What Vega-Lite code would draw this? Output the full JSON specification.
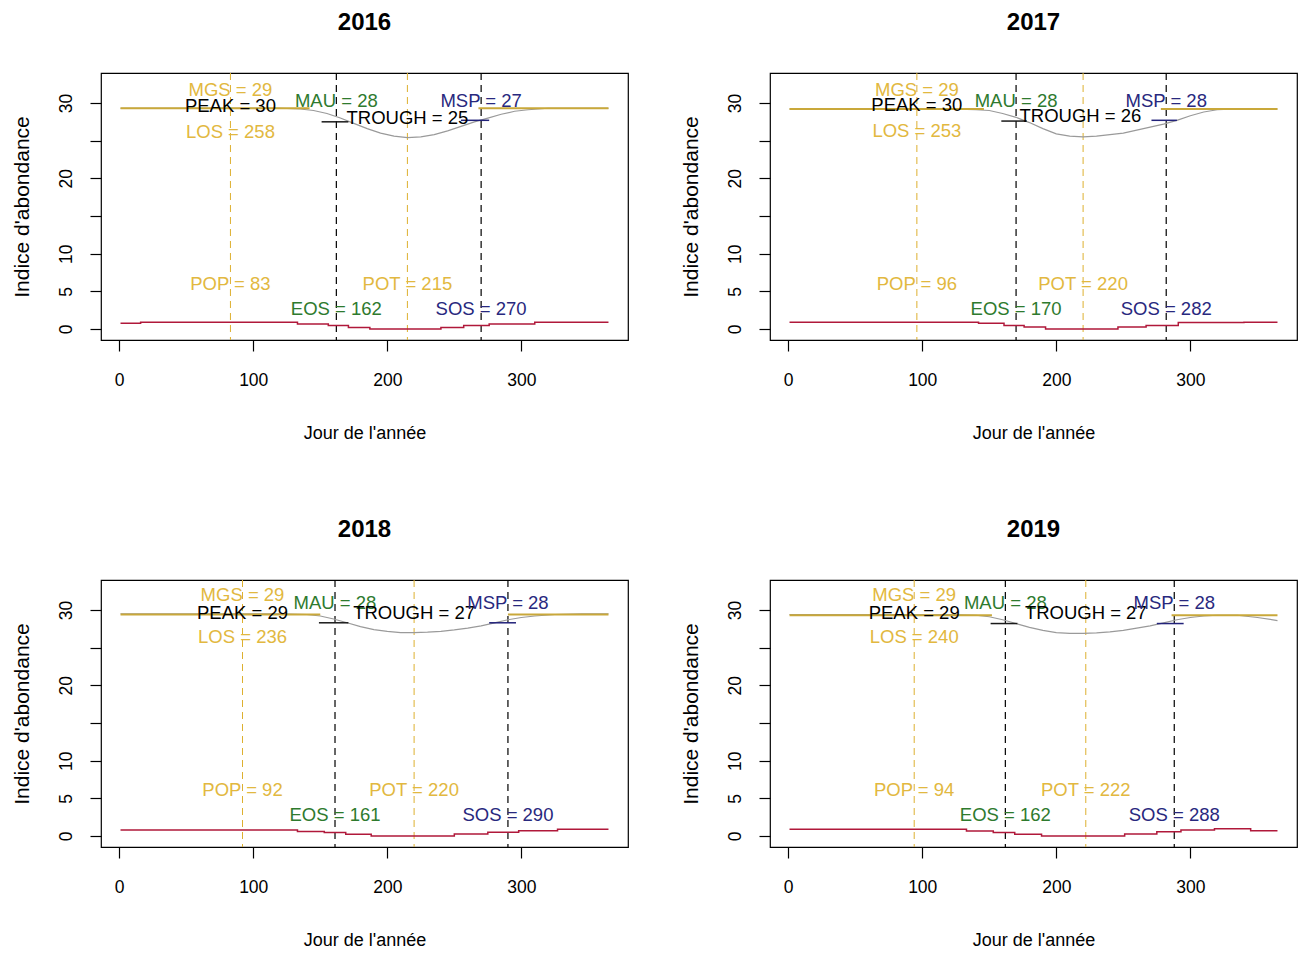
{
  "$schema": "https://vega.github.io/schema/vega-lite/v6.json",
  "background": "white",
  "padding": {"left": 10, "top": 10, "right": 5, "bottom": 5},
  "bounds": "flush",
  "columns": 2,
  "spacing": {"row": 240, "column": 142},
  "datasets": {
    "d": [
      {"year": 2016, "kind": "curve", "day": 1, "value": 29.3},
      {"year": 2016, "kind": "curve", "day": 30, "value": 29.3},
      {"year": 2016, "kind": "curve", "day": 60, "value": 29.3},
      {"year": 2016, "kind": "curve", "day": 90, "value": 29.3},
      {"year": 2016, "kind": "curve", "day": 120, "value": 29.3},
      {"year": 2016, "kind": "curve", "day": 135, "value": 29.2},
      {"year": 2016, "kind": "curve", "day": 145, "value": 29.0},
      {"year": 2016, "kind": "curve", "day": 155, "value": 28.6},
      {"year": 2016, "kind": "curve", "day": 165, "value": 28.0},
      {"year": 2016, "kind": "curve", "day": 175, "value": 27.3},
      {"year": 2016, "kind": "curve", "day": 185, "value": 26.6},
      {"year": 2016, "kind": "curve", "day": 195, "value": 26.0},
      {"year": 2016, "kind": "curve", "day": 205, "value": 25.6},
      {"year": 2016, "kind": "curve", "day": 215, "value": 25.4},
      {"year": 2016, "kind": "curve", "day": 225, "value": 25.5},
      {"year": 2016, "kind": "curve", "day": 235, "value": 25.8},
      {"year": 2016, "kind": "curve", "day": 245, "value": 26.3},
      {"year": 2016, "kind": "curve", "day": 255, "value": 26.9},
      {"year": 2016, "kind": "curve", "day": 265, "value": 27.5},
      {"year": 2016, "kind": "curve", "day": 275, "value": 28.0},
      {"year": 2016, "kind": "curve", "day": 285, "value": 28.5},
      {"year": 2016, "kind": "curve", "day": 295, "value": 28.9},
      {"year": 2016, "kind": "curve", "day": 305, "value": 29.1},
      {"year": 2016, "kind": "curve", "day": 320, "value": 29.3},
      {"year": 2016, "kind": "curve", "day": 340, "value": 29.3},
      {"year": 2016, "kind": "curve", "day": 365, "value": 29.3},

      {"year": 2017, "kind": "curve", "day": 1, "value": 29.2},
      {"year": 2017, "kind": "curve", "day": 30, "value": 29.2},
      {"year": 2017, "kind": "curve", "day": 60, "value": 29.2},
      {"year": 2017, "kind": "curve", "day": 90, "value": 29.2},
      {"year": 2017, "kind": "curve", "day": 120, "value": 29.2},
      {"year": 2017, "kind": "curve", "day": 140, "value": 29.1},
      {"year": 2017, "kind": "curve", "day": 150, "value": 29.0},
      {"year": 2017, "kind": "curve", "day": 160, "value": 28.6},
      {"year": 2017, "kind": "curve", "day": 170, "value": 28.1},
      {"year": 2017, "kind": "curve", "day": 180, "value": 27.4},
      {"year": 2017, "kind": "curve", "day": 190, "value": 26.6},
      {"year": 2017, "kind": "curve", "day": 200, "value": 25.9},
      {"year": 2017, "kind": "curve", "day": 210, "value": 25.6},
      {"year": 2017, "kind": "curve", "day": 220, "value": 25.5},
      {"year": 2017, "kind": "curve", "day": 230, "value": 25.6},
      {"year": 2017, "kind": "curve", "day": 240, "value": 25.8},
      {"year": 2017, "kind": "curve", "day": 250, "value": 26.0},
      {"year": 2017, "kind": "curve", "day": 260, "value": 26.4},
      {"year": 2017, "kind": "curve", "day": 270, "value": 26.8},
      {"year": 2017, "kind": "curve", "day": 280, "value": 27.2},
      {"year": 2017, "kind": "curve", "day": 290, "value": 27.7},
      {"year": 2017, "kind": "curve", "day": 300, "value": 28.3},
      {"year": 2017, "kind": "curve", "day": 310, "value": 28.8},
      {"year": 2017, "kind": "curve", "day": 320, "value": 29.1},
      {"year": 2017, "kind": "curve", "day": 335, "value": 29.2},
      {"year": 2017, "kind": "curve", "day": 365, "value": 29.2},

      {"year": 2018, "kind": "curve", "day": 1, "value": 29.5},
      {"year": 2018, "kind": "curve", "day": 30, "value": 29.5},
      {"year": 2018, "kind": "curve", "day": 60, "value": 29.5},
      {"year": 2018, "kind": "curve", "day": 90, "value": 29.5},
      {"year": 2018, "kind": "curve", "day": 120, "value": 29.5},
      {"year": 2018, "kind": "curve", "day": 140, "value": 29.4},
      {"year": 2018, "kind": "curve", "day": 150, "value": 29.2},
      {"year": 2018, "kind": "curve", "day": 160, "value": 28.8},
      {"year": 2018, "kind": "curve", "day": 170, "value": 28.3},
      {"year": 2018, "kind": "curve", "day": 180, "value": 27.8},
      {"year": 2018, "kind": "curve", "day": 190, "value": 27.4},
      {"year": 2018, "kind": "curve", "day": 200, "value": 27.15},
      {"year": 2018, "kind": "curve", "day": 210, "value": 27.0},
      {"year": 2018, "kind": "curve", "day": 220, "value": 27.0},
      {"year": 2018, "kind": "curve", "day": 230, "value": 27.05},
      {"year": 2018, "kind": "curve", "day": 240, "value": 27.15},
      {"year": 2018, "kind": "curve", "day": 250, "value": 27.35},
      {"year": 2018, "kind": "curve", "day": 260, "value": 27.6},
      {"year": 2018, "kind": "curve", "day": 270, "value": 27.9},
      {"year": 2018, "kind": "curve", "day": 280, "value": 28.3},
      {"year": 2018, "kind": "curve", "day": 290, "value": 28.7},
      {"year": 2018, "kind": "curve", "day": 300, "value": 29.0},
      {"year": 2018, "kind": "curve", "day": 310, "value": 29.2},
      {"year": 2018, "kind": "curve", "day": 325, "value": 29.4},
      {"year": 2018, "kind": "curve", "day": 345, "value": 29.5},
      {"year": 2018, "kind": "curve", "day": 365, "value": 29.5},

      {"year": 2019, "kind": "curve", "day": 1, "value": 29.4},
      {"year": 2019, "kind": "curve", "day": 30, "value": 29.4},
      {"year": 2019, "kind": "curve", "day": 60, "value": 29.4},
      {"year": 2019, "kind": "curve", "day": 90, "value": 29.4},
      {"year": 2019, "kind": "curve", "day": 120, "value": 29.4},
      {"year": 2019, "kind": "curve", "day": 140, "value": 29.3},
      {"year": 2019, "kind": "curve", "day": 150, "value": 29.1},
      {"year": 2019, "kind": "curve", "day": 160, "value": 28.7},
      {"year": 2019, "kind": "curve", "day": 170, "value": 28.2},
      {"year": 2019, "kind": "curve", "day": 180, "value": 27.7},
      {"year": 2019, "kind": "curve", "day": 190, "value": 27.3},
      {"year": 2019, "kind": "curve", "day": 200, "value": 27.0},
      {"year": 2019, "kind": "curve", "day": 210, "value": 26.9},
      {"year": 2019, "kind": "curve", "day": 220, "value": 26.9},
      {"year": 2019, "kind": "curve", "day": 230, "value": 26.95},
      {"year": 2019, "kind": "curve", "day": 240, "value": 27.1},
      {"year": 2019, "kind": "curve", "day": 250, "value": 27.3},
      {"year": 2019, "kind": "curve", "day": 260, "value": 27.6},
      {"year": 2019, "kind": "curve", "day": 270, "value": 27.9},
      {"year": 2019, "kind": "curve", "day": 280, "value": 28.3},
      {"year": 2019, "kind": "curve", "day": 290, "value": 28.7},
      {"year": 2019, "kind": "curve", "day": 300, "value": 29.0},
      {"year": 2019, "kind": "curve", "day": 310, "value": 29.2},
      {"year": 2019, "kind": "curve", "day": 320, "value": 29.3},
      {"year": 2019, "kind": "curve", "day": 335, "value": 29.3},
      {"year": 2019, "kind": "curve", "day": 350, "value": 29.0},
      {"year": 2019, "kind": "curve", "day": 365, "value": 28.6},

      {"year": 2016, "kind": "gold", "seg": "a", "day": 1, "value": 29.3},
      {"year": 2016, "kind": "gold", "seg": "a", "day": 142, "value": 29.3},
      {"year": 2016, "kind": "gold", "seg": "b", "day": 268, "value": 29.3},
      {"year": 2016, "kind": "gold", "seg": "b", "day": 365, "value": 29.3},
      {"year": 2017, "kind": "gold", "seg": "a", "day": 1, "value": 29.2},
      {"year": 2017, "kind": "gold", "seg": "a", "day": 146, "value": 29.2},
      {"year": 2017, "kind": "gold", "seg": "b", "day": 278, "value": 29.2},
      {"year": 2017, "kind": "gold", "seg": "b", "day": 365, "value": 29.2},
      {"year": 2018, "kind": "gold", "seg": "a", "day": 1, "value": 29.4},
      {"year": 2018, "kind": "gold", "seg": "a", "day": 150, "value": 29.4},
      {"year": 2018, "kind": "gold", "seg": "b", "day": 290, "value": 29.4},
      {"year": 2018, "kind": "gold", "seg": "b", "day": 365, "value": 29.4},
      {"year": 2019, "kind": "gold", "seg": "a", "day": 1, "value": 29.3},
      {"year": 2019, "kind": "gold", "seg": "a", "day": 152, "value": 29.3},
      {"year": 2019, "kind": "gold", "seg": "b", "day": 286, "value": 29.3},
      {"year": 2019, "kind": "gold", "seg": "b", "day": 365, "value": 29.3},

      {"year": 2016, "kind": "red", "day": 1, "value": 0.75},
      {"year": 2016, "kind": "red", "day": 16, "value": 0.9},
      {"year": 2016, "kind": "red", "day": 133, "value": 0.65},
      {"year": 2016, "kind": "red", "day": 156, "value": 0.45},
      {"year": 2016, "kind": "red", "day": 171, "value": 0.2},
      {"year": 2016, "kind": "red", "day": 187, "value": 0.0},
      {"year": 2016, "kind": "red", "day": 240, "value": 0.2},
      {"year": 2016, "kind": "red", "day": 257, "value": 0.45},
      {"year": 2016, "kind": "red", "day": 276, "value": 0.65},
      {"year": 2016, "kind": "red", "day": 310, "value": 0.9},
      {"year": 2016, "kind": "red", "day": 365, "value": 0.9},
      {"year": 2017, "kind": "red", "day": 1, "value": 0.9},
      {"year": 2017, "kind": "red", "day": 142, "value": 0.75},
      {"year": 2017, "kind": "red", "day": 161, "value": 0.45},
      {"year": 2017, "kind": "red", "day": 176, "value": 0.25},
      {"year": 2017, "kind": "red", "day": 192, "value": 0.0},
      {"year": 2017, "kind": "red", "day": 246, "value": 0.25},
      {"year": 2017, "kind": "red", "day": 267, "value": 0.45},
      {"year": 2017, "kind": "red", "day": 291, "value": 0.85},
      {"year": 2017, "kind": "red", "day": 340, "value": 0.9},
      {"year": 2017, "kind": "red", "day": 365, "value": 0.9},
      {"year": 2018, "kind": "red", "day": 1, "value": 0.8},
      {"year": 2018, "kind": "red", "day": 133, "value": 0.6},
      {"year": 2018, "kind": "red", "day": 153, "value": 0.45},
      {"year": 2018, "kind": "red", "day": 169, "value": 0.22},
      {"year": 2018, "kind": "red", "day": 188, "value": 0.0},
      {"year": 2018, "kind": "red", "day": 250, "value": 0.25},
      {"year": 2018, "kind": "red", "day": 275, "value": 0.5},
      {"year": 2018, "kind": "red", "day": 298, "value": 0.7},
      {"year": 2018, "kind": "red", "day": 327, "value": 0.9},
      {"year": 2018, "kind": "red", "day": 365, "value": 0.9},
      {"year": 2019, "kind": "red", "day": 1, "value": 0.9},
      {"year": 2019, "kind": "red", "day": 133, "value": 0.65},
      {"year": 2019, "kind": "red", "day": 153, "value": 0.45},
      {"year": 2019, "kind": "red", "day": 169, "value": 0.22},
      {"year": 2019, "kind": "red", "day": 189, "value": 0.0},
      {"year": 2019, "kind": "red", "day": 251, "value": 0.25},
      {"year": 2019, "kind": "red", "day": 275, "value": 0.55},
      {"year": 2019, "kind": "red", "day": 293, "value": 0.8},
      {"year": 2019, "kind": "red", "day": 318, "value": 0.95},
      {"year": 2019, "kind": "red", "day": 345, "value": 0.7},
      {"year": 2019, "kind": "red", "day": 365, "value": 0.7},

      {"year": 2016, "kind": "vline", "metric": "POP", "day": 83},
      {"year": 2016, "kind": "vline", "metric": "EOS", "day": 162},
      {"year": 2016, "kind": "vline", "metric": "POT", "day": 215},
      {"year": 2016, "kind": "vline", "metric": "SOS", "day": 270},
      {"year": 2017, "kind": "vline", "metric": "POP", "day": 96},
      {"year": 2017, "kind": "vline", "metric": "EOS", "day": 170},
      {"year": 2017, "kind": "vline", "metric": "POT", "day": 220},
      {"year": 2017, "kind": "vline", "metric": "SOS", "day": 282},
      {"year": 2018, "kind": "vline", "metric": "POP", "day": 92},
      {"year": 2018, "kind": "vline", "metric": "EOS", "day": 161},
      {"year": 2018, "kind": "vline", "metric": "POT", "day": 220},
      {"year": 2018, "kind": "vline", "metric": "SOS", "day": 290},
      {"year": 2019, "kind": "vline", "metric": "POP", "day": 94},
      {"year": 2019, "kind": "vline", "metric": "EOS", "day": 162},
      {"year": 2019, "kind": "vline", "metric": "POT", "day": 222},
      {"year": 2019, "kind": "vline", "metric": "SOS", "day": 288},

      {"year": 2016, "kind": "seg", "metric": "MAU", "day": 151, "day2": 171, "value": 27.5},
      {"year": 2016, "kind": "seg", "metric": "MSP", "day": 255, "day2": 276, "value": 27.7},
      {"year": 2017, "kind": "seg", "metric": "MAU", "day": 159, "day2": 178, "value": 27.6},
      {"year": 2017, "kind": "seg", "metric": "MSP", "day": 271, "day2": 290, "value": 27.7},
      {"year": 2018, "kind": "seg", "metric": "MAU", "day": 149, "day2": 171, "value": 28.3},
      {"year": 2018, "kind": "seg", "metric": "MSP", "day": 276, "day2": 296, "value": 28.3},
      {"year": 2019, "kind": "seg", "metric": "MAU", "day": 151, "day2": 171, "value": 28.2},
      {"year": 2019, "kind": "seg", "metric": "MSP", "day": 275, "day2": 295, "value": 28.2},

      {"year": 2016, "kind": "label", "metric": "MGS", "day": 83, "value": 31.7, "label": "MGS = 29"},
      {"year": 2016, "kind": "label", "metric": "PEAK", "day": 83, "value": 29.6, "label": "PEAK = 30"},
      {"year": 2016, "kind": "label", "metric": "LOS", "day": 83, "value": 26.2, "label": "LOS = 258"},
      {"year": 2016, "kind": "label", "metric": "MAU", "day": 162, "value": 30.3, "label": "MAU = 28"},
      {"year": 2016, "kind": "label", "metric": "TROUGH", "day": 215, "value": 28.0, "label": "TROUGH = 25"},
      {"year": 2016, "kind": "label", "metric": "MSP", "day": 270, "value": 30.3, "label": "MSP = 27"},
      {"year": 2016, "kind": "label", "metric": "POP", "day": 83, "value": 6.0, "label": "POP = 83"},
      {"year": 2016, "kind": "label", "metric": "POT", "day": 215, "value": 6.0, "label": "POT = 215"},
      {"year": 2016, "kind": "label", "metric": "EOS", "day": 162, "value": 2.6, "label": "EOS = 162"},
      {"year": 2016, "kind": "label", "metric": "SOS", "day": 270, "value": 2.6, "label": "SOS = 270"},

      {"year": 2017, "kind": "label", "metric": "MGS", "day": 96, "value": 31.7, "label": "MGS = 29"},
      {"year": 2017, "kind": "label", "metric": "PEAK", "day": 96, "value": 29.7, "label": "PEAK = 30"},
      {"year": 2017, "kind": "label", "metric": "LOS", "day": 96, "value": 26.3, "label": "LOS = 253"},
      {"year": 2017, "kind": "label", "metric": "MAU", "day": 170, "value": 30.3, "label": "MAU = 28"},
      {"year": 2017, "kind": "label", "metric": "TROUGH", "day": 218, "value": 28.3, "label": "TROUGH = 26"},
      {"year": 2017, "kind": "label", "metric": "MSP", "day": 282, "value": 30.3, "label": "MSP = 28"},
      {"year": 2017, "kind": "label", "metric": "POP", "day": 96, "value": 6.0, "label": "POP = 96"},
      {"year": 2017, "kind": "label", "metric": "POT", "day": 220, "value": 6.0, "label": "POT = 220"},
      {"year": 2017, "kind": "label", "metric": "EOS", "day": 170, "value": 2.6, "label": "EOS = 170"},
      {"year": 2017, "kind": "label", "metric": "SOS", "day": 282, "value": 2.6, "label": "SOS = 282"},

      {"year": 2018, "kind": "label", "metric": "MGS", "day": 92, "value": 32.0, "label": "MGS = 29"},
      {"year": 2018, "kind": "label", "metric": "PEAK", "day": 92, "value": 29.6, "label": "PEAK = 29"},
      {"year": 2018, "kind": "label", "metric": "LOS", "day": 92, "value": 26.4, "label": "LOS = 236"},
      {"year": 2018, "kind": "label", "metric": "MAU", "day": 161, "value": 30.9, "label": "MAU = 28"},
      {"year": 2018, "kind": "label", "metric": "TROUGH", "day": 220, "value": 29.6, "label": "TROUGH = 27"},
      {"year": 2018, "kind": "label", "metric": "MSP", "day": 290, "value": 30.9, "label": "MSP = 28"},
      {"year": 2018, "kind": "label", "metric": "POP", "day": 92, "value": 6.1, "label": "POP = 92"},
      {"year": 2018, "kind": "label", "metric": "POT", "day": 220, "value": 6.1, "label": "POT = 220"},
      {"year": 2018, "kind": "label", "metric": "EOS", "day": 161, "value": 2.8, "label": "EOS = 161"},
      {"year": 2018, "kind": "label", "metric": "SOS", "day": 290, "value": 2.8, "label": "SOS = 290"},

      {"year": 2019, "kind": "label", "metric": "MGS", "day": 94, "value": 32.0, "label": "MGS = 29"},
      {"year": 2019, "kind": "label", "metric": "PEAK", "day": 94, "value": 29.6, "label": "PEAK = 29"},
      {"year": 2019, "kind": "label", "metric": "LOS", "day": 94, "value": 26.4, "label": "LOS = 240"},
      {"year": 2019, "kind": "label", "metric": "MAU", "day": 162, "value": 30.9, "label": "MAU = 28"},
      {"year": 2019, "kind": "label", "metric": "TROUGH", "day": 222, "value": 29.6, "label": "TROUGH = 27"},
      {"year": 2019, "kind": "label", "metric": "MSP", "day": 288, "value": 30.9, "label": "MSP = 28"},
      {"year": 2019, "kind": "label", "metric": "POP", "day": 94, "value": 6.1, "label": "POP = 94"},
      {"year": 2019, "kind": "label", "metric": "POT", "day": 222, "value": 6.1, "label": "POT = 222"},
      {"year": 2019, "kind": "label", "metric": "EOS", "day": 162, "value": 2.8, "label": "EOS = 162"},
      {"year": 2019, "kind": "label", "metric": "SOS", "day": 288, "value": 2.8, "label": "SOS = 288"}
    ]
  },
  "data": {"name": "d"},
  "concat": [
    {
      "title": "2016",
      "width": 527, "height": 267,
      "transform": [{"filter": "datum.year == 2016"}],
      "encoding": {
        "x": {"field": "day", "type": "quantitative", "scale": {"domain": [-13.56, 379.56], "nice": false, "zero": false}, "axis": {"values": [0, 100, 200, 300], "title": "Jour de l'année"}},
        "y": {"field": "value", "type": "quantitative", "scale": {"domain": [-1.46, 33.98], "nice": false, "zero": false}, "axis": {"values": [0, 5, 10, 15, 20, 25, 30], "labelExpr": "datum.value == 15 || datum.value == 25 ? '' : datum.label", "title": "Indice d'abondance"}}
      },
      "layer": [
        {"transform": [{"filter": "datum.kind == 'vline' && (datum.metric == 'POP' || datum.metric == 'POT')"}], "mark": {"type": "rule", "color": "#DDB030", "strokeDash": [7, 5], "strokeWidth": 1}, "encoding": {"y": null}},
        {"transform": [{"filter": "datum.kind == 'vline' && (datum.metric == 'EOS' || datum.metric == 'SOS')"}], "mark": {"type": "rule", "color": "#000000", "strokeDash": [7, 5], "strokeWidth": 1.2}, "encoding": {"y": null}},
        {"transform": [{"filter": "datum.kind == 'curve'"}], "mark": {"type": "line", "color": "#9a9a9a", "strokeWidth": 1.2}},
        {"transform": [{"filter": "datum.kind == 'gold'"}], "mark": {"type": "line", "color": "#C9A83A", "strokeWidth": 2}, "encoding": {"detail": {"field": "seg"}}},
        {"transform": [{"filter": "datum.kind == 'red'"}], "mark": {"type": "line", "color": "#B0183A", "strokeWidth": 1.5, "interpolate": "step-after"}},
        {"transform": [{"filter": "datum.kind == 'seg' && datum.metric == 'MAU'"}], "mark": {"type": "rule", "color": "#1a1a1a", "strokeWidth": 1.5}, "encoding": {"x2": {"field": "day2"}}},
        {"transform": [{"filter": "datum.kind == 'seg' && datum.metric == 'MSP'"}], "mark": {"type": "rule", "color": "#22227a", "strokeWidth": 1.5}, "encoding": {"x2": {"field": "day2"}}},
        {"transform": [{"filter": "datum.kind == 'label'"}], "mark": {"type": "text", "fontSize": 18.5, "align": "center", "baseline": "middle"}, "encoding": {"text": {"field": "label"}, "color": {"field": "metric", "type": "nominal", "legend": null, "scale": {"domain": ["MGS", "LOS", "POP", "POT", "PEAK", "TROUGH", "MAU", "EOS", "MSP", "SOS"], "range": ["#E2B840", "#E2B840", "#E2B840", "#E2B840", "#000000", "#000000", "#2E7A2E", "#2E7A2E", "#28287E", "#28287E"]}}}}
      ]
    },
    {
      "title": "2017",
      "width": 527, "height": 267,
      "transform": [{"filter": "datum.year == 2017"}],
      "encoding": {
        "x": {"field": "day", "type": "quantitative", "scale": {"domain": [-13.56, 379.56], "nice": false, "zero": false}, "axis": {"values": [0, 100, 200, 300], "title": "Jour de l'année"}},
        "y": {"field": "value", "type": "quantitative", "scale": {"domain": [-1.46, 33.98], "nice": false, "zero": false}, "axis": {"values": [0, 5, 10, 15, 20, 25, 30], "labelExpr": "datum.value == 15 || datum.value == 25 ? '' : datum.label", "title": "Indice d'abondance"}}
      },
      "layer": [
        {"transform": [{"filter": "datum.kind == 'vline' && (datum.metric == 'POP' || datum.metric == 'POT')"}], "mark": {"type": "rule", "color": "#DDB030", "strokeDash": [7, 5], "strokeWidth": 1}, "encoding": {"y": null}},
        {"transform": [{"filter": "datum.kind == 'vline' && (datum.metric == 'EOS' || datum.metric == 'SOS')"}], "mark": {"type": "rule", "color": "#000000", "strokeDash": [7, 5], "strokeWidth": 1.2}, "encoding": {"y": null}},
        {"transform": [{"filter": "datum.kind == 'curve'"}], "mark": {"type": "line", "color": "#9a9a9a", "strokeWidth": 1.2}},
        {"transform": [{"filter": "datum.kind == 'gold'"}], "mark": {"type": "line", "color": "#C9A83A", "strokeWidth": 2}, "encoding": {"detail": {"field": "seg"}}},
        {"transform": [{"filter": "datum.kind == 'red'"}], "mark": {"type": "line", "color": "#B0183A", "strokeWidth": 1.5, "interpolate": "step-after"}},
        {"transform": [{"filter": "datum.kind == 'seg' && datum.metric == 'MAU'"}], "mark": {"type": "rule", "color": "#1a1a1a", "strokeWidth": 1.5}, "encoding": {"x2": {"field": "day2"}}},
        {"transform": [{"filter": "datum.kind == 'seg' && datum.metric == 'MSP'"}], "mark": {"type": "rule", "color": "#22227a", "strokeWidth": 1.5}, "encoding": {"x2": {"field": "day2"}}},
        {"transform": [{"filter": "datum.kind == 'label'"}], "mark": {"type": "text", "fontSize": 18.5, "align": "center", "baseline": "middle"}, "encoding": {"text": {"field": "label"}, "color": {"field": "metric", "type": "nominal", "legend": null, "scale": {"domain": ["MGS", "LOS", "POP", "POT", "PEAK", "TROUGH", "MAU", "EOS", "MSP", "SOS"], "range": ["#E2B840", "#E2B840", "#E2B840", "#E2B840", "#000000", "#000000", "#2E7A2E", "#2E7A2E", "#28287E", "#28287E"]}}}}
      ]
    },
    {
      "title": "2018",
      "width": 527, "height": 267,
      "transform": [{"filter": "datum.year == 2018"}],
      "encoding": {
        "x": {"field": "day", "type": "quantitative", "scale": {"domain": [-13.56, 379.56], "nice": false, "zero": false}, "axis": {"values": [0, 100, 200, 300], "title": "Jour de l'année"}},
        "y": {"field": "value", "type": "quantitative", "scale": {"domain": [-1.46, 33.98], "nice": false, "zero": false}, "axis": {"values": [0, 5, 10, 15, 20, 25, 30], "labelExpr": "datum.value == 15 || datum.value == 25 ? '' : datum.label", "title": "Indice d'abondance"}}
      },
      "layer": [
        {"transform": [{"filter": "datum.kind == 'vline' && (datum.metric == 'POP' || datum.metric == 'POT')"}], "mark": {"type": "rule", "color": "#DDB030", "strokeDash": [7, 5], "strokeWidth": 1}, "encoding": {"y": null}},
        {"transform": [{"filter": "datum.kind == 'vline' && (datum.metric == 'EOS' || datum.metric == 'SOS')"}], "mark": {"type": "rule", "color": "#000000", "strokeDash": [7, 5], "strokeWidth": 1.2}, "encoding": {"y": null}},
        {"transform": [{"filter": "datum.kind == 'curve'"}], "mark": {"type": "line", "color": "#9a9a9a", "strokeWidth": 1.2}},
        {"transform": [{"filter": "datum.kind == 'gold'"}], "mark": {"type": "line", "color": "#C9A83A", "strokeWidth": 2}, "encoding": {"detail": {"field": "seg"}}},
        {"transform": [{"filter": "datum.kind == 'red'"}], "mark": {"type": "line", "color": "#B0183A", "strokeWidth": 1.5, "interpolate": "step-after"}},
        {"transform": [{"filter": "datum.kind == 'seg' && datum.metric == 'MAU'"}], "mark": {"type": "rule", "color": "#1a1a1a", "strokeWidth": 1.5}, "encoding": {"x2": {"field": "day2"}}},
        {"transform": [{"filter": "datum.kind == 'seg' && datum.metric == 'MSP'"}], "mark": {"type": "rule", "color": "#22227a", "strokeWidth": 1.5}, "encoding": {"x2": {"field": "day2"}}},
        {"transform": [{"filter": "datum.kind == 'label'"}], "mark": {"type": "text", "fontSize": 18.5, "align": "center", "baseline": "middle"}, "encoding": {"text": {"field": "label"}, "color": {"field": "metric", "type": "nominal", "legend": null, "scale": {"domain": ["MGS", "LOS", "POP", "POT", "PEAK", "TROUGH", "MAU", "EOS", "MSP", "SOS"], "range": ["#E2B840", "#E2B840", "#E2B840", "#E2B840", "#000000", "#000000", "#2E7A2E", "#2E7A2E", "#28287E", "#28287E"]}}}}
      ]
    },
    {
      "title": "2019",
      "width": 527, "height": 267,
      "transform": [{"filter": "datum.year == 2019"}],
      "encoding": {
        "x": {"field": "day", "type": "quantitative", "scale": {"domain": [-13.56, 379.56], "nice": false, "zero": false}, "axis": {"values": [0, 100, 200, 300], "title": "Jour de l'année"}},
        "y": {"field": "value", "type": "quantitative", "scale": {"domain": [-1.46, 33.98], "nice": false, "zero": false}, "axis": {"values": [0, 5, 10, 15, 20, 25, 30], "labelExpr": "datum.value == 15 || datum.value == 25 ? '' : datum.label", "title": "Indice d'abondance"}}
      },
      "layer": [
        {"transform": [{"filter": "datum.kind == 'vline' && (datum.metric == 'POP' || datum.metric == 'POT')"}], "mark": {"type": "rule", "color": "#DDB030", "strokeDash": [7, 5], "strokeWidth": 1}, "encoding": {"y": null}},
        {"transform": [{"filter": "datum.kind == 'vline' && (datum.metric == 'EOS' || datum.metric == 'SOS')"}], "mark": {"type": "rule", "color": "#000000", "strokeDash": [7, 5], "strokeWidth": 1.2}, "encoding": {"y": null}},
        {"transform": [{"filter": "datum.kind == 'curve'"}], "mark": {"type": "line", "color": "#9a9a9a", "strokeWidth": 1.2}},
        {"transform": [{"filter": "datum.kind == 'gold'"}], "mark": {"type": "line", "color": "#C9A83A", "strokeWidth": 2}, "encoding": {"detail": {"field": "seg"}}},
        {"transform": [{"filter": "datum.kind == 'red'"}], "mark": {"type": "line", "color": "#B0183A", "strokeWidth": 1.5, "interpolate": "step-after"}},
        {"transform": [{"filter": "datum.kind == 'seg' && datum.metric == 'MAU'"}], "mark": {"type": "rule", "color": "#1a1a1a", "strokeWidth": 1.5}, "encoding": {"x2": {"field": "day2"}}},
        {"transform": [{"filter": "datum.kind == 'seg' && datum.metric == 'MSP'"}], "mark": {"type": "rule", "color": "#22227a", "strokeWidth": 1.5}, "encoding": {"x2": {"field": "day2"}}},
        {"transform": [{"filter": "datum.kind == 'label'"}], "mark": {"type": "text", "fontSize": 18.5, "align": "center", "baseline": "middle"}, "encoding": {"text": {"field": "label"}, "color": {"field": "metric", "type": "nominal", "legend": null, "scale": {"domain": ["MGS", "LOS", "POP", "POT", "PEAK", "TROUGH", "MAU", "EOS", "MSP", "SOS"], "range": ["#E2B840", "#E2B840", "#E2B840", "#E2B840", "#000000", "#000000", "#2E7A2E", "#2E7A2E", "#28287E", "#28287E"]}}}}
      ]
    }
  ],
  "config": {
    "font": "Liberation Sans, Arial, sans-serif",
    "view": {"stroke": "#000000", "strokeWidth": 1.2},
    "axis": {"grid": false, "domain": false, "tickColor": "#000000", "tickSize": 11, "tickWidth": 1.2, "labelFontSize": 17.5, "titleFontSize": 18, "titleFontWeight": "normal", "labelColor": "#000000", "titleColor": "#000000", "labelOverlap": false, "labelFlush": false},
    "axisX": {"labelPadding": 20, "titlePadding": 36},
    "axisY": {"labelAngle": 270, "labelPadding": 15, "titlePadding": 25, "titleFontSize": 21},
    "title": {"fontSize": 24, "fontWeight": "bold", "color": "#000000", "offset": 37, "anchor": "middle"},
    "text": {"font": "Liberation Sans, Arial, sans-serif"}
  }
}
